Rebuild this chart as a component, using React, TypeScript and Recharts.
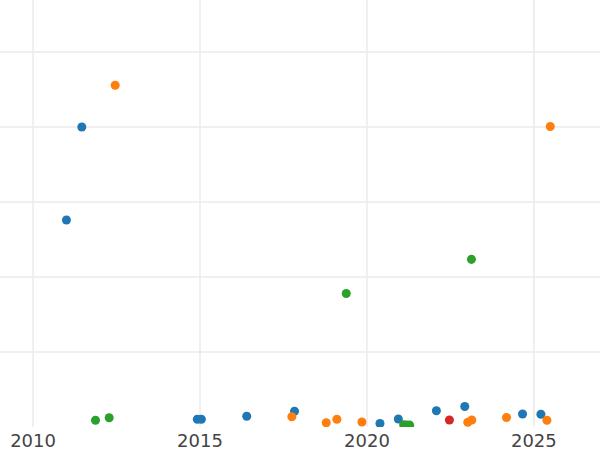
import * as React from 'react';
import {
  ScatterChart,
  Scatter,
  XAxis,
  YAxis,
  ZAxis,
  CartesianGrid,
} from 'recharts';

// Values (y axis has no labels, units are arbitrary)
const BLUE_YEARS = [2011.0, 2011.46, 2014.92, 2015.04, 2016.4, 2017.83, 2020.39, 2020.94, 2022.08, 2022.93, 2024.66, 2025.21];
const BLUE_VALUES = [276, 400, 10.3, 10.3, 14.3, 21, 4.7, 10.7, 21.6, 27.3, 17.3, 17];

const ORANGE_YEARS = [2012.46, 2017.75, 2018.78, 2019.1, 2019.85, 2023.02, 2023.14, 2024.18, 2025.39, 2025.49];
const ORANGE_VALUES = [455.6, 13.7, 5.7, 10.3, 6.7, 6.3, 9.3, 12.7, 9, 400.7];

const GREEN_YEARS = [2011.87, 2012.28, 2019.38, 2021.1, 2021.19, 2021.28, 2023.13];
const GREEN_VALUES = [9, 12.4, 178, 3, 2.5, 2.5, 223.5];

const RED_YEARS = [2022.47];
const RED_VALUES = [9.3];

const X_TICKS = [2010, 2015, 2020, 2025];
const Y_TICKS = [100, 200, 300, 400, 500];

const COLORS = {
  blue: '#1f77b4',
  orange: '#ff7f0e',
  green: '#2ca02c',
  red: '#d62728',
};

const toPoints = (xs: number[], ys: number[]) => xs.map((x, i) => ({ x, y: ys[i] }));

const SERIES = [
  { name: 'blue', color: COLORS.blue, data: toPoints(BLUE_YEARS, BLUE_VALUES) },
  { name: 'orange', color: COLORS.orange, data: toPoints(ORANGE_YEARS, ORANGE_VALUES) },
  { name: 'green', color: COLORS.green, data: toPoints(GREEN_YEARS, GREEN_VALUES) },
  { name: 'red', color: COLORS.red, data: toPoints(RED_YEARS, RED_VALUES) },
];

export default function App() {
  return (
    <div style={{ position: 'absolute', left: 0, top: 0, width: 600, height: 450, background: '#fff' }}>
      <ScatterChart
        width={600}
        height={450}
        margin={{ top: 0, right: 0, bottom: 0, left: 0 }}
        style={{ fontFamily: '"DejaVu Sans", sans-serif' }}
      >
        <CartesianGrid
          stroke="#ebebeb"
          strokeWidth={1.5}
          horizontalValues={Y_TICKS}
          verticalValues={X_TICKS}
        />
        <XAxis
          type="number"
          dataKey="x"
          domain={[2009.01, 2026.98]}
          ticks={X_TICKS}
          allowDataOverflow
          axisLine={false}
          tickLine={false}
          tickSize={0}
          tickMargin={7}
          height={23}
          tick={{ fill: '#444', fontSize: 18 }}
        />
        <YAxis
          type="number"
          dataKey="y"
          domain={[0, 569.33]}
          ticks={Y_TICKS}
          allowDataOverflow
          hide
        />
        <ZAxis range={[64, 64]} />
        {SERIES.map((s) => (
          <Scatter
            key={s.name}
            name={s.name}
            data={s.data}
            fill={s.color}
            isAnimationActive={false}
          />
        ))}
      </ScatterChart>
    </div>
  );
}
